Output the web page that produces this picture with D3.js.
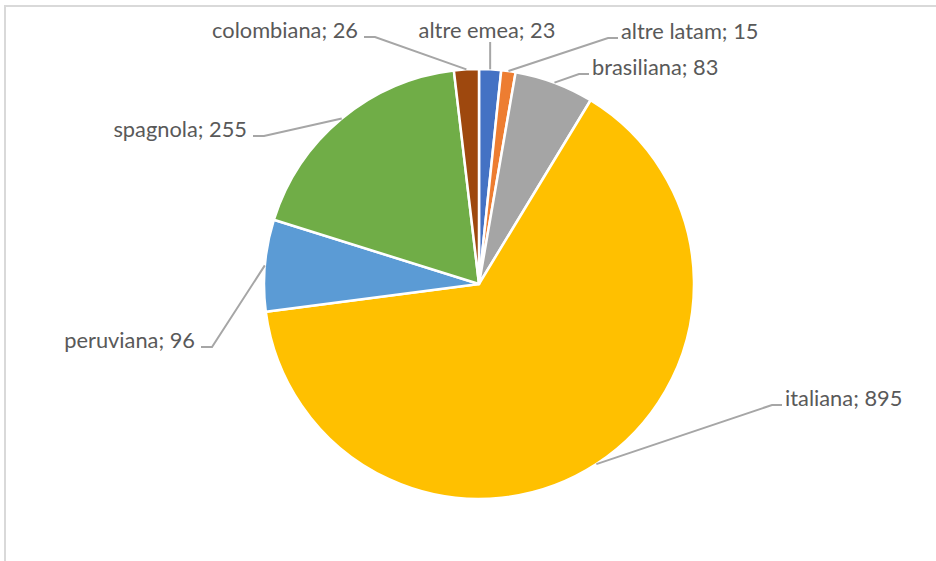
<!DOCTYPE html>
<html>
<head>
<meta charset="utf-8">
<script src="https://cdn.jsdelivr.net/npm/d3@7"></script>
<style>
  html, body { margin: 0; padding: 0; background: #fff; }
  svg { display: block; }
</style>
</head>
<body>
<svg id="chart" width="936" height="561"></svg>
<script>
// Nationality breakdown, clockwise from 12 o'clock
const categories = ["altre emea", "altre latam", "brasiliana", "italiana", "peruviana", "spagnola", "colombiana"];
const values     = [23, 15, 83, 895, 96, 255, 26];
const colors     = ["#4472C4", "#ED7D31", "#A5A5A5", "#FFC000", "#5B9BD5", "#70AD47", "#9E480E"];

// Label placement: text anchor point and which side the leader attaches
const labelLayout = {
  "altre emea":  { x: 487, y: 38, side: "top" },
  "altre latam": { x: 621, y: 39, side: "right" },
  "brasiliana":  { x: 592, y: 75, side: "right" },
  "italiana":    { x: 785, y: 406, side: "right" },
  "peruviana":   { x: 195, y: 348, side: "left" },
  "spagnola":    { x: 247, y: 137, side: "left" },
  "colombiana":  { x: 358, y: 38, side: "left" }
};

const svg = d3.select("#chart");
const cx = 479, cy = 284, r = 215;
const fontFamily = "Lato, 'Open Sans', sans-serif";

// Chart frame
svg.append("rect")
  .attr("x", 5).attr("y", 6).attr("width", 940).attr("height", 570)
  .attr("fill", "#fff").attr("stroke", "#d9d9d9").attr("stroke-width", 2);

const data = categories.map((c, i) => ({ name: c, value: values[i], color: colors[i] }));

const pie = d3.pie().sort(null).value(d => d.value);
const arc = d3.arc().innerRadius(0).outerRadius(r);
const arcs = pie(data);

const g = svg.append("g").attr("transform", `translate(${cx},${cy})`);
g.selectAll("path.slice")
  .data(arcs)
  .join("path")
  .attr("class", "slice")
  .attr("d", arc)
  .attr("fill", d => d.data.color)
  .attr("stroke", "#fff")
  .attr("stroke-width", 2.5)
  .attr("stroke-linejoin", "round");

// Fit the label font so the labels keep their Calibri-like width
const probe = svg.append("text").attr("font-family", fontFamily).attr("font-size", 20).text("colombiana; 26");
const w20 = probe.node().getComputedTextLength();
probe.remove();
const fontSize = Math.min(24, Math.max(15, 20 * 146 / w20));

// Leader lines and labels
const lines = svg.append("g");
const labels = svg.append("g");
arcs.forEach(a => {
  const name = a.data.name;
  const L = labelLayout[name];
  const mid = (a.startAngle + a.endAngle) / 2;
  const px = cx + r * Math.sin(mid);
  const py = cy - r * Math.cos(mid);
  let pts;
  let anchor;
  const ly = L.y - 1;
  if (L.side === "top") {
    pts = [[px, py], [px, L.y + 4]];
    anchor = "middle";
  } else if (L.side === "right") {
    pts = [[px, py], [L.x - 13, ly], [L.x - 3, ly]];
    anchor = "start";
  } else {
    pts = [[px, py], [L.x + 17, ly], [L.x + 6, ly]];
    anchor = "end";
  }
  lines.append("path")
    .attr("d", d3.line()(pts))
    .attr("fill", "none")
    .attr("stroke", "#a6a6a6")
    .attr("stroke-width", 2);
  labels.append("text")
    .attr("x", L.x).attr("y", L.y)
    .attr("text-anchor", anchor)
    .attr("font-family", fontFamily)
    .attr("font-size", fontSize)
    .attr("fill", "#595959")
    .text(`${name}; ${a.data.value}`);
});
</script>
</body>
</html>
